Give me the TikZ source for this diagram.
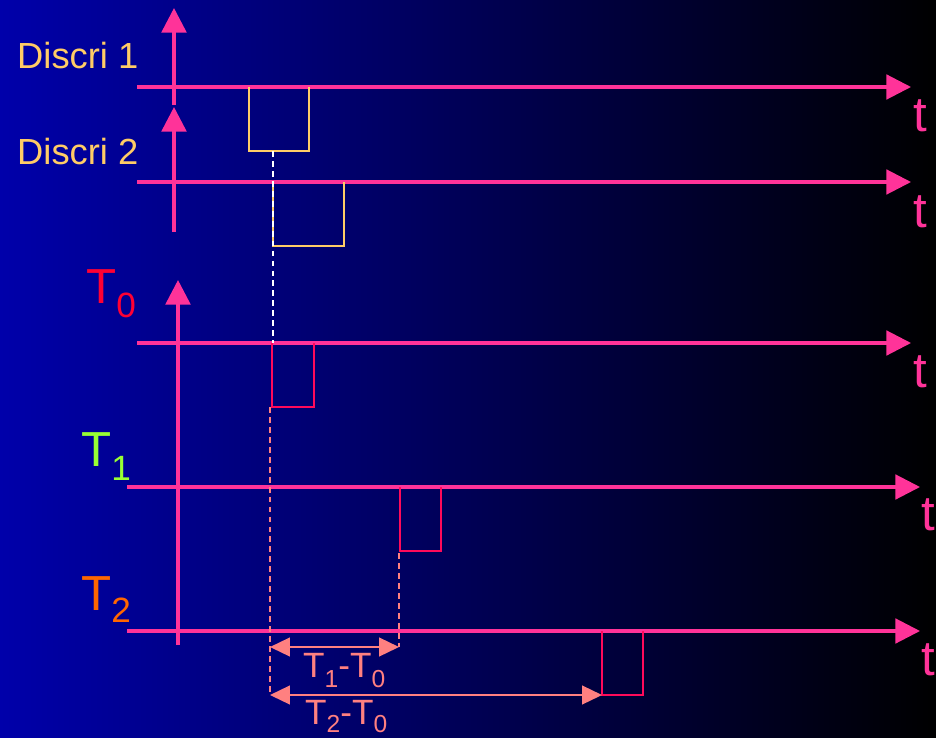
\documentclass[tikz,border=0pt]{standalone}
\usepackage{fontspec}
\setmainfont{Liberation Sans}
\usepackage{tikz}
\usetikzlibrary{arrows.meta}

\definecolor{bgblue}{RGB}{0,0,170}
\definecolor{bgmid}{RGB}{0,0,105}
\definecolor{axpink}{RGB}{255,51,153}
\definecolor{pulsegold}{RGB}{255,204,102}
\definecolor{pulsered}{RGB}{255,10,90}
\definecolor{tzero}{RGB}{255,0,51}
\definecolor{tone}{RGB}{153,255,51}
\definecolor{ttwo}{RGB}{255,102,0}
\definecolor{salmon}{RGB}{255,128,128}

\begin{document}
\begin{tikzpicture}[x=0.03cm, y=-0.03cm,
  axis/.style={draw=axpink, line width=2.6pt, -{Triangle[length=21pt,width=21pt]}},
  pulse/.style={line width=2.2pt},
  guide/.style={line width=1.4pt, dash pattern=on 5pt off 3.5pt},
  span/.style={draw=salmon, line width=1.6pt, {Triangle[length=17pt,width=16pt]}-{Triangle[length=17pt,width=16pt]}},
  tlab/.style={anchor=base west, inner sep=0pt, text=axpink, font=\fontsize{42}{42}\selectfont},
  chan/.style={anchor=base west, inner sep=0pt, font=\fontsize{42}{42}\selectfont},
  diff/.style={anchor=base west, inner sep=0pt, text=salmon, font=\fontsize{30}{30}\selectfont}]

% background
\shade[left color=bgblue, middle color=bgmid, right color=black] (0,0) rectangle (936,737);
\useasboundingbox (0,0) rectangle (936,737);

% channel labels
\node[anchor=base west, inner sep=0pt, text=pulsegold, font=\fontsize{31}{31}\selectfont] (lbl-d1) at (17,69) {Discri 1};
\node[anchor=base west, inner sep=0pt, text=pulsegold, font=\fontsize{31}{31}\selectfont] (lbl-d2) at (17,165) {Discri 2};
\node[chan, text=tzero] (lbl-t0) at (86,303) {T\raisebox{-12pt}{\fontsize{30}{30}\selectfont 0}};
\node[chan, text=tone] (lbl-t1) at (81,466) {T\raisebox{-12pt}{\fontsize{30}{30}\selectfont 1}};
\node[chan, text=ttwo] (lbl-t2) at (81,610) {T\raisebox{-11pt}{\fontsize{30}{30}\selectfont 2}};

% time axes
\coordinate (d1o) at (137,87);  \coordinate (d1e) at (911,87);
\coordinate (d2o) at (137,182); \coordinate (d2e) at (911,182);
\coordinate (t0o) at (137,343); \coordinate (t0e) at (911,343);
\coordinate (t1o) at (127,487); \coordinate (t1e) at (920,487);
\coordinate (t2o) at (127,631); \coordinate (t2e) at (920,631);
\draw[axis] (d1o) -- (d1e);
\draw[axis] (d2o) -- (d2e);
\draw[axis] (t0o) -- (t0e);
\draw[axis] (t1o) -- (t1e);
\draw[axis] (t2o) -- (t2e);
\node[tlab] (t-d1) at (913,132) {t};
\node[tlab] (t-d2) at (913,227) {t};
\node[tlab] (t-t0) at (913,387) {t};
\node[tlab] (t-t1) at (921,530) {t};
\node[tlab] (t-t2) at (921,675) {t};

% amplitude axes
\coordinate (v1o) at (174,105); \coordinate (v1e) at (174,8);
\coordinate (v2o) at (174,232); \coordinate (v2e) at (174,107);
\coordinate (v3o) at (178,645); \coordinate (v3e) at (178,280);
\draw[axis, line width=3pt] (v1o) -- (v1e);
\draw[axis, line width=3pt] (v2o) -- (v2e);
\draw[axis, line width=3pt] (v3o) -- (v3e);

% pulses
\coordinate (p-d1) at (249,87);
\coordinate (p-d2) at (273,182);
\coordinate (p-t0) at (272,343);
\coordinate (p-t1) at (400,487);
\coordinate (p-t2) at (602,631);
\draw[pulse, pulsegold] (p-d1) -- ++(0,64) -| ++(60,-64);
\draw[pulse, pulsegold] (p-d2) -- ++(0,64) -| ++(71,-64);
\draw[pulse, pulsered] (p-t0) -- ++(0,64) -| ++(42,-64);
\draw[pulse, pulsered] (p-t1) -- ++(0,64) -| ++(41,-64);
\draw[pulse, pulsered] (p-t2) -- ++(0,64) -| ++(41,-64);

% time marks
\coordinate (m-d) at (273,151);
\coordinate (m-d0) at (273,343);
\coordinate (m0) at (270,407);
\coordinate (m0e) at (270,695);
\coordinate (m1) at (399,553);
\coordinate (m1e) at (399,647);
\draw[guide, white] (m-d) -- (m-d0);
\draw[guide, salmon] (m0) -- (m0e);
\draw[guide, salmon] (m1) -- (m1e);

% differences
\draw[span] (270,647) coordinate (s1a) -- (399,647) coordinate (s1b);
\draw[span] (m0e) -- (602,695) coordinate (s2b);
\node[diff] (lbl-s1) at (303,677) {T\raisebox{-9pt}{\fontsize{21}{21}\selectfont 1}-T\raisebox{-9pt}{\fontsize{21}{21}\selectfont 0}};
\node[diff] (lbl-s2) at (305,724) {T\raisebox{-7.5pt}{\fontsize{21}{21}\selectfont 2}-T\raisebox{-7.5pt}{\fontsize{21}{21}\selectfont 0}};
\end{tikzpicture}
\end{document}
